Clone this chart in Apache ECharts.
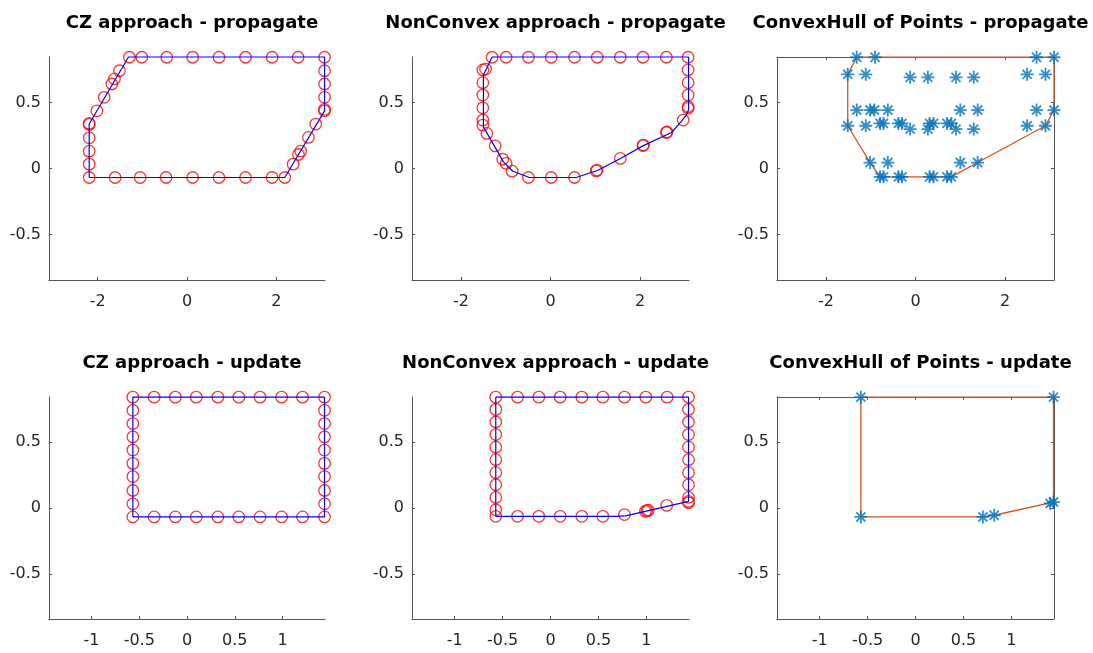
<!DOCTYPE html>
<html>
<head>
<meta charset="utf-8">
<script src="https://cdn.jsdelivr.net/npm/echarts@6/dist/echarts.min.js"></script>
<style>
html,body{margin:0;padding:0;background:#fff;}
#chart{width:1093px;height:653px;}
</style>
</head>
<body>
<div id="chart"></div>
<script>
// ---------- tick labels / limits ----------
const xTicksTop = [-2, 0, 2];
const xTicksBottom = [-1, -0.5, 0, 0.5, 1];
const yTicks = [-0.5, 0, 0.5];
const xLimTop = 3.09;
const xLimBottom = 1.445;
const yLim = 0.843;

const titles = [
  'CZ approach - propagate', 'NonConvex approach - propagate', 'ConvexHull of Points - propagate',
  'CZ approach - update', 'NonConvex approach - update', 'ConvexHull of Points - update'
];

// ---------- Panel 1: CZ approach - propagate ----------
const czPropLineX = [-2.19, 2.19, 3.08, 3.08, -1.31, -2.19, -2.19];
const czPropLineY = [-0.068, -0.068, 0.436, 0.843, 0.843, 0.336, -0.068];
const czPropPtsX = [
  -1.289, -1.012, -0.454, 0.127, 0.715, 1.311, 1.906, 2.487, 3.08,
  3.08, 3.08, 3.08, 3.08, 3.08,
  2.883, 2.719, 2.547, 2.496, 2.376, 2.19,
  1.906, 1.311, 0.715, 0.127, -0.469, -1.050, -1.609, -2.19,
  -2.19, -2.19, -2.19, -2.19, -2.19,
  -2.018, -1.855, -1.683, -1.624, -1.513
];
const czPropPtsY = [
  0.841, 0.841, 0.841, 0.841, 0.841, 0.841, 0.841, 0.841, 0.841,
  0.739, 0.639, 0.538, 0.447, 0.436,
  0.336, 0.235, 0.131, 0.106, 0.033, -0.068,
  -0.068, -0.068, -0.068, -0.068, -0.068, -0.068, -0.068, -0.068,
  0.033, 0.131, 0.232, 0.333, 0.341,
  0.436, 0.538, 0.639, 0.677, 0.739
];

// ---------- Panel 2: NonConvex approach - propagate ----------
const ncPropLineX = [-1.303, 3.08, 3.08, 3.03, 2.90, 2.70, 2.06, 1.56, 1.06, 0.574, -0.469, -0.842, -1.05, -1.497, -1.497, -1.303];
const ncPropLineY = [0.843, 0.843, 0.442, 0.404, 0.348, 0.272, 0.171, 0.076, -0.013, -0.068, -0.068, -0.021, 0.05, 0.315, 0.707, 0.843];
const ncPropPtsX = [
  -1.303, -0.99, -0.492, 0.015, 0.536, 1.043, 1.557, 2.063, 2.585, 3.07,
  3.07, 3.07, 3.07, 3.07, 3.07,
  2.96, 2.585, 2.60, 2.063, 2.075, 1.557, 1.02, 1.04, 0.536, 0.015, -0.492,
  -0.856, -0.99, -1.066, -1.236, -1.42, -1.51, -1.51,
  -1.51, -1.51, -1.51, -1.51, -1.45
];
const ncPropPtsY = [
  0.841, 0.841, 0.841, 0.841, 0.841, 0.841, 0.841, 0.841, 0.841, 0.841,
  0.745, 0.649, 0.555, 0.467, 0.455,
  0.366, 0.272, 0.276, 0.174, 0.177, 0.076, -0.018, -0.012, -0.068, -0.068, -0.068,
  -0.020, 0.038, 0.07, 0.171, 0.265, 0.328, 0.366,
  0.459, 0.555, 0.649, 0.745, 0.752
];

// ---------- Panel 3: ConvexHull of Points - propagate ----------
const chPropPtsX = [
  -1.311, -0.902, 2.70, 3.09,
  -1.512, -1.11, 2.49, 2.90,
  -0.119, 0.277, 0.904, 1.298,
  -1.311, -1.013, -0.917, -0.617, 1.0, 1.387, 2.70, 3.09,
  -0.79, -0.716, -0.38, -0.304, 0.313, 0.403, 0.702, 0.80,
  -1.512, -1.11, 2.49, 2.90,
  -0.119, 0.277, 0.904, 1.298,
  -1.013, -0.617, 1.0, 1.387,
  -0.79, -0.716, -0.38, -0.304, 0.313, 0.403, 0.702, 0.80
];
const chPropPtsY = [
  0.841, 0.841, 0.841, 0.841,
  0.712, 0.712, 0.712, 0.712,
  0.689, 0.689, 0.689, 0.689,
  0.442, 0.442, 0.442, 0.442, 0.442, 0.442, 0.442, 0.442,
  0.341, 0.341, 0.341, 0.341, 0.341, 0.341, 0.341, 0.341,
  0.323, 0.323, 0.323, 0.323,
  0.298, 0.298, 0.298, 0.298,
  0.045, 0.045, 0.045, 0.045,
  -0.063, -0.063, -0.063, -0.063, -0.063, -0.063, -0.063, -0.063
];
const chPropHullX = [-1.311, 3.09, 3.09, 2.90, 1.387, 0.80, -0.79, -1.013, -1.512, -1.512, -1.311];
const chPropHullY = [0.841, 0.841, 0.442, 0.323, 0.045, -0.063, -0.063, 0.045, 0.323, 0.712, 0.841];

// ---------- Panel 4: CZ approach - update ----------
const czUpdLineX = [-0.567, 1.44, 1.44, -0.567, -0.567];
const czUpdLineY = [-0.068, -0.068, 0.842, 0.842, -0.068];
const czUpdPtsX = [
  -0.567, -0.344, -0.122, 0.097, 0.323, 0.542, 0.765, 0.991, 1.210, 1.44,
  1.44, 1.44, 1.44, 1.44, 1.44, 1.44, 1.44, 1.44, 1.44,
  1.210, 0.991, 0.765, 0.542, 0.323, 0.097, -0.122, -0.344, -0.567,
  -0.567, -0.567, -0.567, -0.567, -0.567, -0.567, -0.567, -0.567
];
const czUpdPtsY = [
  0.842, 0.842, 0.842, 0.842, 0.842, 0.842, 0.842, 0.842, 0.842, 0.842,
  0.742, 0.641, 0.540, 0.440, 0.339, 0.239, 0.133, 0.032, -0.068,
  -0.068, -0.068, -0.068, -0.068, -0.068, -0.068, -0.068, -0.068, -0.068,
  0.032, 0.133, 0.239, 0.339, 0.440, 0.540, 0.641, 0.742
];

// ---------- Panel 5: NonConvex approach - update ----------
const ncUpdLineX = [-0.571, 1.44, 1.44, 0.796, 0.70, -0.571, -0.571];
const ncUpdLineY = [0.842, 0.842, 0.050, -0.058, -0.063, -0.063, 0.842];
const ncUpdPtsX = [
  -0.571, -0.344, -0.122, 0.101, 0.327, 0.546, 0.772, 0.994, 1.217, 1.44,
  1.44, 1.44, 1.44, 1.44, 1.44, 1.44, 1.44, 1.44, 1.44, 1.44,
  1.213, 1.005, 1.02, 0.99, 0.772,
  0.546, 0.327, 0.101, -0.122, -0.344, -0.571,
  -0.571, -0.571, -0.571, -0.571, -0.571, -0.571, -0.571, -0.571, -0.571
];
const ncUpdPtsY = [
  0.842, 0.842, 0.842, 0.842, 0.842, 0.842, 0.842, 0.842, 0.842, 0.842,
  0.749, 0.653, 0.558, 0.462, 0.367, 0.268, 0.176, 0.080, 0.050, 0.040,
  0.020, -0.020, -0.017, -0.025, -0.050,
  -0.063, -0.063, -0.063, -0.063, -0.063, -0.063,
  -0.014, 0.080, 0.176, 0.268, 0.367, 0.462, 0.558, 0.653, 0.749
];

// ---------- Panel 6: ConvexHull of Points - update ----------
const chUpdPtsX = [-0.57, 1.44, -0.57, 0.703, 0.821, 1.405, 1.44];
const chUpdPtsY = [0.842, 0.842, -0.068, -0.068, -0.055, 0.035, 0.045];
const chUpdHullX = [-0.57, 1.44, 1.44, 0.821, 0.703, -0.57, -0.57];
const chUpdHullY = [0.842, 0.842, 0.045, -0.055, -0.068, -0.068, 0.842];

// ---------- helpers ----------
const zip = (xs, ys) => xs.map((x, i) => [x, ys[i]]);
const FONT = 'DejaVu Sans';
const AX = '#555555';
const TXT = '#262626';
const STAR = 'path://M0 43 H100 V57 H0 Z M43 0 H57 V100 H43 Z M10 20 L20 10 L90 80 L80 90 Z M80 10 L90 20 L20 90 L10 80 Z';

const grids = [
  {left: 49, top: 57, width: 276, height: 223},
  {left: 412, top: 57, width: 277, height: 223},
  {left: 777, top: 57, width: 277, height: 223},
  {left: 49, top: 397, width: 276, height: 222},
  {left: 412, top: 397, width: 277, height: 222},
  {left: 777, top: 397, width: 277, height: 222}
];

const xAxes = [], yAxes = [];
function addX(gi, lim, ticks, pos, labels) {
  xAxes.push({
    type: 'value', gridIndex: gi, min: -lim, max: lim, position: pos,
    axisLine: {show: true, onZero: false, lineStyle: {color: AX, width: 1}},
    axisTick: {show: true, inside: true, length: 3, customValues: ticks, lineStyle: {color: AX}},
    axisLabel: {show: labels, customValues: ticks, margin: 14, color: TXT, fontSize: 16, fontFamily: FONT},
    splitLine: {show: false}
  });
  return xAxes.length - 1;
}
function addY(gi, ticks, pos, labels) {
  yAxes.push({
    type: 'value', gridIndex: gi, min: -yLim, max: yLim, position: pos,
    axisLine: {show: true, onZero: false, lineStyle: {color: AX, width: 1}},
    axisTick: {show: true, inside: true, length: 3, customValues: ticks, lineStyle: {color: AX}},
    axisLabel: {show: labels, customValues: ticks, margin: 8, color: TXT, fontSize: 16, fontFamily: FONT},
    splitLine: {show: false}
  });
  return yAxes.length - 1;
}

const series = [];
function lineS(xi, yi, xs, ys, color, w) {
  series.push({type: 'line', xAxisIndex: xi, yAxisIndex: yi, data: zip(xs, ys),
    symbol: 'none', lineStyle: {color: color, width: w}, clip: false, z: 3, silent: true});
}
function circS(xi, yi, xs, ys) {
  series.push({type: 'scatter', xAxisIndex: xi, yAxisIndex: yi, data: zip(xs, ys),
    symbol: 'circle', symbolSize: 11.5, clip: false, z: 2, silent: true,
    itemStyle: {color: 'rgba(255,255,255,0)', borderColor: '#ff0000', borderWidth: 1.3}});
}
function starS(xi, yi, xs, ys) {
  series.push({type: 'scatter', xAxisIndex: xi, yAxisIndex: yi, data: zip(xs, ys),
    symbol: STAR, symbolSize: 13, clip: false, z: 4, silent: true,
    itemStyle: {color: '#0072BD'}});
}

// panel 1
let x = addX(0, xLimTop, xTicksTop, 'bottom', true), y = addY(0, yTicks, 'left', true);
circS(x, y, czPropPtsX, czPropPtsY); lineS(x, y, czPropLineX, czPropLineY, '#0000ff', 1.2);
// panel 2
x = addX(1, xLimTop, xTicksTop, 'bottom', true); y = addY(1, yTicks, 'left', true);
circS(x, y, ncPropPtsX, ncPropPtsY); lineS(x, y, ncPropLineX, ncPropLineY, '#0000ff', 1.2);
// panel 3
x = addX(2, xLimTop, xTicksTop, 'bottom', true); y = addY(2, yTicks, 'left', true);
addX(2, xLimTop, xTicksTop, 'top', false); addY(2, yTicks, 'right', false);
lineS(x, y, chPropHullX, chPropHullY, '#D95319', 1.3); starS(x, y, chPropPtsX, chPropPtsY);
// panel 4
x = addX(3, xLimBottom, xTicksBottom, 'bottom', true); y = addY(3, yTicks, 'left', true);
circS(x, y, czUpdPtsX, czUpdPtsY); lineS(x, y, czUpdLineX, czUpdLineY, '#0000ff', 1.2);
// panel 5
x = addX(4, xLimBottom, xTicksBottom, 'bottom', true); y = addY(4, yTicks, 'left', true);
circS(x, y, ncUpdPtsX, ncUpdPtsY); lineS(x, y, ncUpdLineX, ncUpdLineY, '#0000ff', 1.2);
// panel 6
x = addX(5, xLimBottom, xTicksBottom, 'bottom', true); y = addY(5, yTicks, 'left', true);
addX(5, xLimBottom, xTicksBottom, 'top', false); addY(5, yTicks, 'right', false);
lineS(x, y, chUpdHullX, chUpdHullY, '#D95319', 1.3); starS(x, y, chUpdPtsX, chUpdPtsY);

const titleComps = titles.map((t, i) => ({
  text: t, left: grids[i].left + grids[i].width / 2, top: i < 3 ? 9 : 349, textAlign: 'center',
  textStyle: {fontFamily: FONT, fontWeight: 'bold', fontSize: 18, color: '#000'}
}));

const chart = echarts.init(document.getElementById('chart'), null, {renderer: 'canvas'});
chart.setOption({
  animation: false,
  backgroundColor: '#ffffff',
  title: titleComps,
  grid: grids,
  xAxis: xAxes,
  yAxis: yAxes,
  series: series
});
</script>
</body>
</html>
